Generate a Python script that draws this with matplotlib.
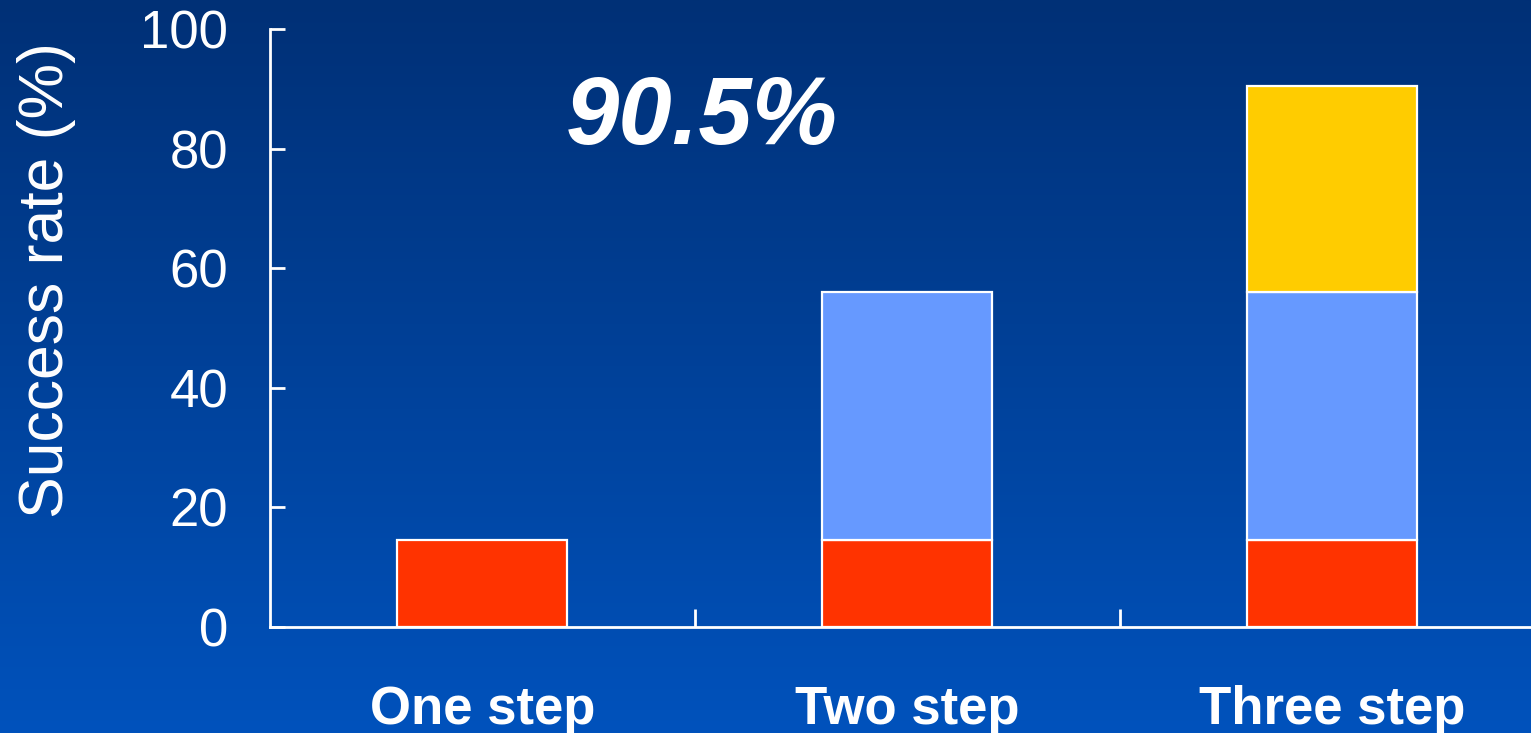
#Imports

import matplotlib.pyplot as plt
import numpy as np

plt.rcParams['font.family'] = ['Liberation Sans', 'DejaVu Sans']

#Data

steps = ["One step", "Two step", "Three step"]
first_step = [14.5, 14.5, 14.5]
second_step = [0, 41.5, 41.5]
third_step = [0, 0, 34.5]
yticks = [0, 20, 40, 60, 80, 100]
total_label = "90.5%"

#Figure with gradient background

fig = plt.figure(figsize=(15.31, 7.33), dpi=100)

bg = fig.add_axes([0, 0, 1, 1], zorder=0)
top = np.array([0, 48, 118]) / 255
bottom = np.array([0, 82, 188]) / 255
t = np.linspace(0, 1, 256)[:, None]
grad = (top * (1 - t) + bottom * t)[:, None, :]
bg.imshow(grad, aspect="auto", extent=[0, 1, 0, 1])
bg.axis("off")

ax = fig.add_axes([270 / 1531, 1 - 627 / 733, 1275 / 1531, 598 / 733], zorder=1)
ax.patch.set_alpha(0)

x = np.arange(len(steps)) + 0.5
edge = dict(edgecolor="white", linewidth=1.6, width=0.4)
ax.bar(x, first_step, color="#FF3300", **edge)
ax.bar(x[1:], second_step[1:], bottom=first_step[1:], color="#6699FF", **edge)
base = np.array(first_step) + np.array(second_step)
ax.bar(x[2:], third_step[2:], bottom=base[2:], color="#FFCC00", **edge)

ax.set_xlim(0, 3)
ax.set_ylim(0, 100)

# spines
for s in ["top", "right"]:
    ax.spines[s].set_visible(False)
for s in ["left", "bottom"]:
    ax.spines[s].set_color("white")
    ax.spines[s].set_linewidth(2)

ax.set_yticks(yticks)
ax.tick_params(axis="y", direction="in", length=11, width=2, color="white",
               labelcolor="white", labelsize=38, pad=30)

# category boundaries as ticks, labels at centers
ax.set_xticks([1, 2])
ax.set_xticklabels([])
ax.tick_params(axis="x", which="major", direction="in", length=13, width=2, color="white")
ax.set_xticks(x, minor=True)
ax.set_xticklabels(steps, minor=True, fontweight="bold")
ax.tick_params(axis="x", which="minor", length=0, labelcolor="white", labelsize=38, pad=42)

fig.text(47 / 1531, 1 - 280 / 733, "Success rate (%)", rotation=90, ha="center",
         va="center", color="white", fontsize=45)

ax.text(1.016, 85, total_label, ha="center", va="center", color="white",
        fontsize=69, fontweight="bold", fontstyle="italic")

fig.savefig("out.png", dpi=100)
